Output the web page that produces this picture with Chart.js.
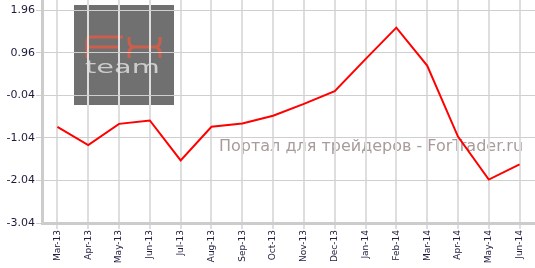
<!DOCTYPE html>
<html>
<head>
<meta charset="utf-8">
<script src="https://cdn.jsdelivr.net/npm/chart.js@4.4.0/dist/chart.umd.min.js"></script>
<style>
  html, body { margin: 0; padding: 0; background: #fff; }
  #wrap { width: 535px; height: 268px; }
</style>
</head>
<body>
<div id="wrap"><canvas id="chart" width="535" height="268"></canvas></div>
<script>
// Данные графика
const months = ['Mar-13', 'Apr-13', 'May-13', 'Jun-13', 'Jul-13', 'Aug-13', 'Sep-13', 'Oct-13',
    'Nov-13', 'Dec-13', 'Jan-14', 'Feb-14', 'Mar-14', 'Apr-14', 'May-14', 'Jun-14'];
const values = [-0.78, -1.21, -0.71, -0.63, -1.57, -0.78, -0.70, -0.52,
    -0.24, 0.06, 0.81, 1.55, 0.66, -1.01, -2.02, -1.66];
const yTicks = [-3.04, -2.04, -1.04, -0.04, 0.96, 1.96];
const watermarkText = 'Портал для трейдеров - ForTrader.ru';

// Фон, логотип и надпись под сеткой
const backdrop = {
    id: 'backdrop',
    beforeDraw(chart) {
        const ctx = chart.ctx;
        ctx.save();
        ctx.fillStyle = '#fff';
        ctx.fillRect(0, 0, chart.width, chart.height);

        // логотип FX team
        ctx.fillStyle = '#707070';
        ctx.fillRect(74, 5, 100, 100);

        ctx.strokeStyle = '#cc5f4c';
        ctx.lineWidth = 3;
        ctx.beginPath();
        ctx.moveTo(87, 58);
        ctx.lineTo(87, 41);
        ctx.arcTo(87, 37, 91, 37, 4);
        ctx.lineTo(123, 37);
        ctx.moveTo(87, 47);
        ctx.lineTo(119, 47);
        // X
        ctx.moveTo(129, 37);
        ctx.lineTo(129, 41);
        ctx.quadraticCurveTo(129, 47, 135, 47);
        ctx.lineTo(154, 47);
        ctx.quadraticCurveTo(160, 47, 160, 41);
        ctx.lineTo(160, 37);
        ctx.moveTo(135, 47);
        ctx.quadraticCurveTo(129, 47, 129, 53);
        ctx.lineTo(129, 58);
        ctx.moveTo(154, 47);
        ctx.quadraticCurveTo(160, 47, 160, 53);
        ctx.lineTo(160, 58);
        ctx.stroke();

        ctx.save();
        ctx.fillStyle = '#cccccc';
        ctx.font = '18px "DejaVu Sans"';
        ctx.translate(85, 73);
        ctx.scale(1.6, 1);
        ctx.fillText('team', 0, 0);
        ctx.restore();

        // надпись
        ctx.fillStyle = '#a99b9b';
        ctx.font = '16px "DejaVu Sans"';
        ctx.fillText(watermarkText, 219, 151, 308);
        ctx.restore();
    }
};

const tickFontX = { family: '"DejaVu Sans", Verdana, sans-serif', size: 9 };
const tickFontY = { family: '"DejaVu Sans", Verdana, sans-serif', size: 11 };

new Chart(document.getElementById('chart'), {
    type: 'line',
    data: {
        labels: months,
        datasets: [{
            data: values,
            borderColor: '#ff0000',
            borderWidth: 2,
            pointRadius: 0,
            tension: 0,
            fill: false
        }]
    },
    options: {
        responsive: false,
        animation: false,
        layout: { padding: 0 },
        plugins: {
            legend: { display: false },
            tooltip: { enabled: false }
        },
        scales: {
            x: {
                offset: true,
                grid: { color: '#dedede', lineWidth: 2, tickLength: 6, offset: false },
                border: { color: '#cccccc', width: 3 },
                ticks: {
                    minRotation: 90,
                    maxRotation: 90,
                    autoSkip: false,
                    padding: 1,
                    color: '#1c1c3c',
                    font: tickFontX
                },
                afterFit(axis) {
                    axis.height = 45;
                    axis.paddingLeft = 0;
                    axis.paddingRight = 0;
                }
            },
            y: {
                min: -3.04,
                max: 2.2,
                afterBuildTicks(axis) {
                    axis.ticks = yTicks.map(v => ({ value: v }));
                },
                grid: { color: '#cfcfcf', lineWidth: 1, tickLength: 6 },
                border: { color: '#cccccc', width: 3 },
                ticks: {
                    padding: 1,
                    color: '#1c1c3c',
                    font: tickFontY,
                    callback: v => v.toFixed(2)
                },
                afterFit(axis) {
                    axis.width = 42;
                    axis.paddingTop = 0;
                    axis.paddingBottom = 0;
                }
            }
        }
    },
    plugins: [backdrop]
});
</script>
</body>
</html>
